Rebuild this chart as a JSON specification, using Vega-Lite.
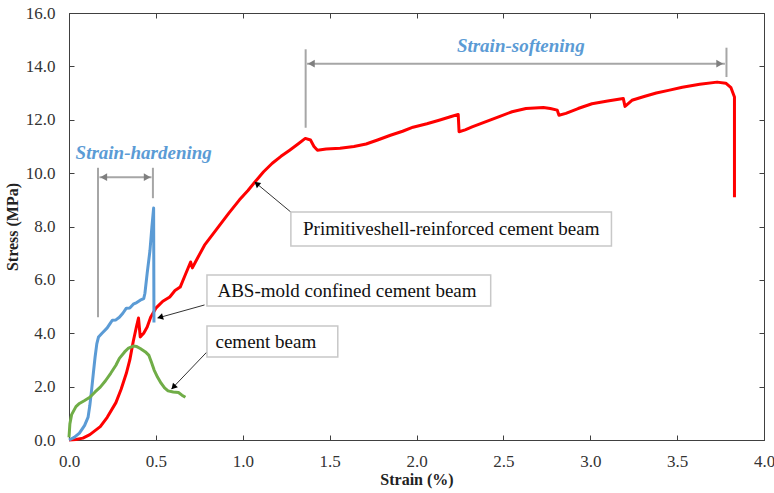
{
  "$schema": "https://vega.github.io/schema/vega-lite/v6.json",
  "width": 695,
  "height": 427,
  "autosize": {"type": "none"},
  "padding": {"left": 69, "top": 13, "right": 10, "bottom": 53},
  "config": {
    "view": {"stroke": "#404040", "strokeWidth": 1},
    "font": "Liberation Serif"
  },
  "datasets": {
    "curves": [
      {"s": "red", "i": 1, "x": 0, "y": 0},
      {"s": "red", "i": 2, "x": 0.04, "y": 0.02},
      {"s": "red", "i": 3, "x": 0.08, "y": 0.07},
      {"s": "red", "i": 4, "x": 0.12, "y": 0.2},
      {"s": "red", "i": 5, "x": 0.18, "y": 0.5},
      {"s": "red", "i": 6, "x": 0.22, "y": 0.85},
      {"s": "red", "i": 7, "x": 0.27, "y": 1.4},
      {"s": "red", "i": 8, "x": 0.3, "y": 1.9},
      {"s": "red", "i": 9, "x": 0.33, "y": 2.5},
      {"s": "red", "i": 10, "x": 0.35, "y": 3.0},
      {"s": "red", "i": 11, "x": 0.37, "y": 3.7},
      {"s": "red", "i": 12, "x": 0.39, "y": 4.3},
      {"s": "red", "i": 13, "x": 0.4, "y": 4.57},
      {"s": "red", "i": 14, "x": 0.41, "y": 3.86},
      {"s": "red", "i": 15, "x": 0.43, "y": 4.0},
      {"s": "red", "i": 16, "x": 0.45, "y": 4.23},
      {"s": "red", "i": 17, "x": 0.47, "y": 4.6},
      {"s": "red", "i": 18, "x": 0.5, "y": 4.94},
      {"s": "red", "i": 19, "x": 0.54, "y": 5.2},
      {"s": "red", "i": 20, "x": 0.58, "y": 5.36},
      {"s": "red", "i": 21, "x": 0.61, "y": 5.6},
      {"s": "red", "i": 22, "x": 0.64, "y": 5.73},
      {"s": "red", "i": 23, "x": 0.67, "y": 6.2},
      {"s": "red", "i": 24, "x": 0.7, "y": 6.67},
      {"s": "red", "i": 25, "x": 0.71, "y": 6.45},
      {"s": "red", "i": 26, "x": 0.73, "y": 6.7},
      {"s": "red", "i": 27, "x": 0.78, "y": 7.3},
      {"s": "red", "i": 28, "x": 0.85, "y": 7.9},
      {"s": "red", "i": 29, "x": 0.92, "y": 8.5},
      {"s": "red", "i": 30, "x": 0.98, "y": 8.99},
      {"s": "red", "i": 31, "x": 1.03, "y": 9.35},
      {"s": "red", "i": 32, "x": 1.07, "y": 9.67},
      {"s": "red", "i": 33, "x": 1.12, "y": 10.05},
      {"s": "red", "i": 34, "x": 1.17, "y": 10.37},
      {"s": "red", "i": 35, "x": 1.22, "y": 10.63},
      {"s": "red", "i": 36, "x": 1.27, "y": 10.86},
      {"s": "red", "i": 37, "x": 1.32, "y": 11.1},
      {"s": "red", "i": 38, "x": 1.36, "y": 11.3},
      {"s": "red", "i": 39, "x": 1.39, "y": 11.24},
      {"s": "red", "i": 40, "x": 1.41, "y": 11.0},
      {"s": "red", "i": 41, "x": 1.43, "y": 10.86},
      {"s": "red", "i": 42, "x": 1.48, "y": 10.9},
      {"s": "red", "i": 43, "x": 1.56, "y": 10.93},
      {"s": "red", "i": 44, "x": 1.64, "y": 11.0},
      {"s": "red", "i": 45, "x": 1.71, "y": 11.09},
      {"s": "red", "i": 46, "x": 1.78, "y": 11.25},
      {"s": "red", "i": 47, "x": 1.85, "y": 11.42},
      {"s": "red", "i": 48, "x": 1.92, "y": 11.57},
      {"s": "red", "i": 49, "x": 1.98, "y": 11.72},
      {"s": "red", "i": 50, "x": 2.06, "y": 11.85},
      {"s": "red", "i": 51, "x": 2.13, "y": 11.98},
      {"s": "red", "i": 52, "x": 2.2, "y": 12.12},
      {"s": "red", "i": 53, "x": 2.24, "y": 12.2},
      {"s": "red", "i": 54, "x": 2.245, "y": 11.55},
      {"s": "red", "i": 55, "x": 2.28, "y": 11.62},
      {"s": "red", "i": 56, "x": 2.32, "y": 11.73},
      {"s": "red", "i": 57, "x": 2.4, "y": 11.93},
      {"s": "red", "i": 58, "x": 2.48, "y": 12.13},
      {"s": "red", "i": 59, "x": 2.55, "y": 12.3},
      {"s": "red", "i": 60, "x": 2.63, "y": 12.42},
      {"s": "red", "i": 61, "x": 2.73, "y": 12.46},
      {"s": "red", "i": 62, "x": 2.77, "y": 12.42},
      {"s": "red", "i": 63, "x": 2.81, "y": 12.36},
      {"s": "red", "i": 64, "x": 2.82, "y": 12.17},
      {"s": "red", "i": 65, "x": 2.86, "y": 12.24},
      {"s": "red", "i": 66, "x": 2.93, "y": 12.42},
      {"s": "red", "i": 67, "x": 3.01, "y": 12.6},
      {"s": "red", "i": 68, "x": 3.1, "y": 12.7},
      {"s": "red", "i": 69, "x": 3.19, "y": 12.8},
      {"s": "red", "i": 70, "x": 3.2, "y": 12.5},
      {"s": "red", "i": 71, "x": 3.24, "y": 12.73},
      {"s": "red", "i": 72, "x": 3.31, "y": 12.87},
      {"s": "red", "i": 73, "x": 3.38, "y": 13.0},
      {"s": "red", "i": 74, "x": 3.45, "y": 13.1},
      {"s": "red", "i": 75, "x": 3.53, "y": 13.22},
      {"s": "red", "i": 76, "x": 3.63, "y": 13.33},
      {"s": "red", "i": 77, "x": 3.73, "y": 13.41},
      {"s": "red", "i": 78, "x": 3.78, "y": 13.37},
      {"s": "red", "i": 79, "x": 3.81, "y": 13.2},
      {"s": "red", "i": 80, "x": 3.83, "y": 12.85},
      {"s": "red", "i": 81, "x": 3.83, "y": 9.1},
      {"s": "blue", "i": 1, "x": 0, "y": 0},
      {"s": "blue", "i": 2, "x": 0.03, "y": 0.1},
      {"s": "blue", "i": 3, "x": 0.06, "y": 0.26},
      {"s": "blue", "i": 4, "x": 0.09, "y": 0.55},
      {"s": "blue", "i": 5, "x": 0.11, "y": 0.86},
      {"s": "blue", "i": 6, "x": 0.12, "y": 1.3},
      {"s": "blue", "i": 7, "x": 0.13, "y": 1.87},
      {"s": "blue", "i": 8, "x": 0.14, "y": 2.5},
      {"s": "blue", "i": 9, "x": 0.15, "y": 3.1},
      {"s": "blue", "i": 10, "x": 0.16, "y": 3.6},
      {"s": "blue", "i": 11, "x": 0.17, "y": 3.86},
      {"s": "blue", "i": 12, "x": 0.19, "y": 4.0},
      {"s": "blue", "i": 13, "x": 0.22, "y": 4.2},
      {"s": "blue", "i": 14, "x": 0.24, "y": 4.4},
      {"s": "blue", "i": 15, "x": 0.25, "y": 4.49},
      {"s": "blue", "i": 16, "x": 0.27, "y": 4.5},
      {"s": "blue", "i": 17, "x": 0.29, "y": 4.6},
      {"s": "blue", "i": 18, "x": 0.31, "y": 4.75},
      {"s": "blue", "i": 19, "x": 0.33, "y": 4.94},
      {"s": "blue", "i": 20, "x": 0.35, "y": 4.95},
      {"s": "blue", "i": 21, "x": 0.37, "y": 5.09},
      {"s": "blue", "i": 22, "x": 0.39, "y": 5.15},
      {"s": "blue", "i": 23, "x": 0.41, "y": 5.24},
      {"s": "blue", "i": 24, "x": 0.43, "y": 5.3},
      {"s": "blue", "i": 25, "x": 0.437, "y": 5.5},
      {"s": "blue", "i": 26, "x": 0.45, "y": 6.25},
      {"s": "blue", "i": 27, "x": 0.466, "y": 7.1},
      {"s": "blue", "i": 28, "x": 0.477, "y": 7.98},
      {"s": "blue", "i": 29, "x": 0.487, "y": 8.69},
      {"s": "blue", "i": 30, "x": 0.489, "y": 4.4},
      {"s": "green", "i": 1, "x": 0, "y": 0.1},
      {"s": "green", "i": 2, "x": 0.005, "y": 0.6},
      {"s": "green", "i": 3, "x": 0.015, "y": 0.95},
      {"s": "green", "i": 4, "x": 0.04, "y": 1.25},
      {"s": "green", "i": 5, "x": 0.06, "y": 1.37},
      {"s": "green", "i": 6, "x": 0.09, "y": 1.48},
      {"s": "green", "i": 7, "x": 0.12, "y": 1.6},
      {"s": "green", "i": 8, "x": 0.15, "y": 1.8},
      {"s": "green", "i": 9, "x": 0.18, "y": 1.98},
      {"s": "green", "i": 10, "x": 0.21, "y": 2.22},
      {"s": "green", "i": 11, "x": 0.24, "y": 2.5},
      {"s": "green", "i": 12, "x": 0.27, "y": 2.8},
      {"s": "green", "i": 13, "x": 0.29, "y": 3.06},
      {"s": "green", "i": 14, "x": 0.32, "y": 3.3},
      {"s": "green", "i": 15, "x": 0.34, "y": 3.43},
      {"s": "green", "i": 16, "x": 0.37, "y": 3.52},
      {"s": "green", "i": 17, "x": 0.39, "y": 3.5},
      {"s": "green", "i": 18, "x": 0.41, "y": 3.43},
      {"s": "green", "i": 19, "x": 0.44, "y": 3.3},
      {"s": "green", "i": 20, "x": 0.46, "y": 3.17},
      {"s": "green", "i": 21, "x": 0.475, "y": 2.9},
      {"s": "green", "i": 22, "x": 0.49, "y": 2.62},
      {"s": "green", "i": 23, "x": 0.51, "y": 2.35},
      {"s": "green", "i": 24, "x": 0.53, "y": 2.13},
      {"s": "green", "i": 25, "x": 0.55, "y": 1.95},
      {"s": "green", "i": 26, "x": 0.57, "y": 1.84},
      {"s": "green", "i": 27, "x": 0.6, "y": 1.8},
      {"s": "green", "i": 28, "x": 0.63, "y": 1.78},
      {"s": "green", "i": 29, "x": 0.65, "y": 1.68},
      {"s": "green", "i": 30, "x": 0.67, "y": 1.6}
    ],
    "brackets": [
      {"x": 0.167, "x2": 0.167, "y": 4.6, "y2": 10.2},
      {"x": 0.483, "x2": 0.483, "y": 9.06, "y2": 10.2},
      {"x": 0.175, "x2": 0.475, "y": 9.85, "y2": 9.85},
      {"x": 1.362, "x2": 1.362, "y": 11.7, "y2": 14.64},
      {"x": 3.784, "x2": 3.784, "y": 13.6, "y2": 14.7},
      {"x": 1.37, "x2": 3.775, "y": 14.1, "y2": 14.1}
    ],
    "headsLeft": [
      {"x": 0.2, "y": 9.85},
      {"x": 1.395, "y": 14.1}
    ],
    "headsRight": [
      {"x": 0.45, "y": 9.85},
      {"x": 3.745, "y": 14.1}
    ],
    "pointers": [
      {"x": 1.277, "y": 8.54, "x2": 1.07, "y2": 9.66},
      {"x": 0.78, "y": 5.06, "x2": 0.51, "y2": 4.57},
      {"x": 0.794, "y": 3.3, "x2": 0.59, "y2": 1.91}
    ],
    "boxes": [
      {"label": "Primitiveshell-reinforced cement beam", "x": 1.277, "x2": 3.122, "y": 8.54, "y2": 7.27, "tx": 2.2, "ty": 7.9},
      {"label": "ABS-mold confined cement beam", "x": 0.794, "x2": 2.427, "y": 6.18, "y2": 5.02, "tx": 1.6, "ty": 5.6},
      {"label": "cement beam", "x": 0.794, "x2": 1.547, "y": 4.27, "y2": 3.11, "tx": 1.133, "ty": 3.69}
    ],
    "phases": [
      {"label": "Strain-hardening", "x": 0.43, "y": 10.75},
      {"label": "Strain-softening", "x": 2.6, "y": 14.76}
    ]
  },
  "resolve": {"axis": {"x": "independent", "y": "independent"}},
  "layer": [
    {
      "data": {"name": "curves"},
      "mark": {"type": "line", "strokeWidth": 3, "strokeJoin": "round", "strokeCap": "butt"},
      "encoding": {
        "x": {
          "field": "x", "type": "quantitative",
          "scale": {"domain": [0, 4], "nice": false, "zero": false},
          "axis": {
            "orient": "bottom",
            "values": [0, 0.5, 1, 1.5, 2, 2.5, 3, 3.5, 4],
            "format": ".1f",
            "grid": false,
            "labelFlush": false,
            "labelOverlap": false,
            "labelFont": "Liberation Serif",
            "labelFontSize": 17,
            "labelColor": "#333333",
            "labelPadding": 18,
            "tickSize": -5,
            "tickColor": "#404040",
            "domainColor": "#404040",
            "title": "Strain (%)",
            "titleFont": "Liberation Serif",
            "titleFontSize": 16,
            "titleFontWeight": "bold",
            "titleColor": "#222222",
            "titlePadding": 2
          }
        },
        "y": {
          "field": "y", "type": "quantitative",
          "scale": {"domain": [0, 16], "nice": false, "zero": false},
          "axis": {
            "orient": "left",
            "values": [0, 2, 4, 6, 8, 10, 12, 14, 16],
            "format": ".1f",
            "grid": false,
            "labelFont": "Liberation Serif",
            "labelFontSize": 17,
            "labelColor": "#333333",
            "labelPadding": 19,
            "tickSize": -5,
            "tickColor": "#404040",
            "domainColor": "#404040",
            "title": "Stress (MPa)",
            "titleFont": "Liberation Serif",
            "titleFontSize": 16,
            "titleFontWeight": "bold",
            "titleColor": "#222222",
            "titlePadding": 5
          }
        },
        "color": {
          "field": "s", "type": "nominal",
          "scale": {"domain": ["red", "blue", "green"], "range": ["#ff0000", "#5b9bd5", "#70ad47"]},
          "legend": null
        },
        "order": {"field": "i", "type": "quantitative"}
      }
    },
    {
      "data": {"name": "brackets"},
      "mark": {"type": "rule", "color": "#a6a6a6", "strokeWidth": 2},
      "encoding": {
        "x": {
          "field": "x", "type": "quantitative",
          "axis": {"orient": "top", "values": [0, 0.5, 1, 1.5, 2, 2.5, 3, 3.5, 4], "labels": false, "title": null, "grid": false, "domain": false, "tickSize": -5, "tickColor": "#404040"}
        },
        "x2": {"field": "x2"},
        "y": {
          "field": "y", "type": "quantitative",
          "axis": {"orient": "right", "values": [0, 2, 4, 6, 8, 10, 12, 14, 16], "labels": false, "title": null, "grid": false, "domain": false, "tickSize": -5, "tickColor": "#404040"}
        },
        "y2": {"field": "y2"}
      }
    },
    {
      "data": {"name": "headsLeft"},
      "mark": {"type": "point", "shape": "triangle-left", "filled": true, "color": "#7f7f7f", "size": 60, "opacity": 1},
      "encoding": {
        "x": {"field": "x", "type": "quantitative", "axis": null},
        "y": {"field": "y", "type": "quantitative", "axis": null}
      }
    },
    {
      "data": {"name": "headsRight"},
      "mark": {"type": "point", "shape": "triangle-right", "filled": true, "color": "#7f7f7f", "size": 60, "opacity": 1},
      "encoding": {
        "x": {"field": "x", "type": "quantitative", "axis": null},
        "y": {"field": "y", "type": "quantitative", "axis": null}
      }
    },
    {
      "data": {"name": "pointers"},
      "mark": {"type": "rule", "color": "#333333", "strokeWidth": 1},
      "encoding": {
        "x": {"field": "x", "type": "quantitative", "axis": null},
        "x2": {"field": "x2"},
        "y": {"field": "y", "type": "quantitative", "axis": null},
        "y2": {"field": "y2"}
      }
    },
    {
      "data": {"values": [{"x": 1.085, "y": 9.58}]},
      "mark": {"type": "point", "shape": "triangle", "filled": true, "color": "#000000", "size": 45, "opacity": 1, "angle": 310},
      "encoding": {
        "x": {"field": "x", "type": "quantitative", "axis": null},
        "y": {"field": "y", "type": "quantitative", "axis": null}
      }
    },
    {
      "data": {"values": [{"x": 0.53, "y": 4.61}]},
      "mark": {"type": "point", "shape": "triangle", "filled": true, "color": "#000000", "size": 45, "opacity": 1, "angle": 254},
      "encoding": {
        "x": {"field": "x", "type": "quantitative", "axis": null},
        "y": {"field": "y", "type": "quantitative", "axis": null}
      }
    },
    {
      "data": {"values": [{"x": 0.605, "y": 2.01}]},
      "mark": {"type": "point", "shape": "triangle", "filled": true, "color": "#000000", "size": 45, "opacity": 1, "angle": 223},
      "encoding": {
        "x": {"field": "x", "type": "quantitative", "axis": null},
        "y": {"field": "y", "type": "quantitative", "axis": null}
      }
    },
    {
      "data": {"name": "boxes"},
      "mark": {"type": "rect", "fill": "#ffffff", "stroke": "#c8c8c8", "strokeWidth": 1.5},
      "encoding": {
        "x": {"field": "x", "type": "quantitative", "axis": null},
        "x2": {"field": "x2"},
        "y": {"field": "y", "type": "quantitative", "axis": null},
        "y2": {"field": "y2"}
      }
    },
    {
      "data": {"name": "boxes"},
      "mark": {"type": "text", "font": "Liberation Serif", "fontSize": 19, "color": "#111111", "align": "center", "baseline": "middle"},
      "encoding": {
        "x": {"field": "tx", "type": "quantitative", "axis": null},
        "y": {"field": "ty", "type": "quantitative", "axis": null},
        "text": {"field": "label"}
      }
    },
    {
      "data": {"name": "phases"},
      "mark": {"type": "text", "font": "Liberation Serif", "fontSize": 19, "fontWeight": "bold", "fontStyle": "italic", "color": "#5b9bd5", "align": "center", "baseline": "middle"},
      "encoding": {
        "x": {"field": "x", "type": "quantitative", "axis": null},
        "y": {"field": "y", "type": "quantitative", "axis": null},
        "text": {"field": "label"}
      }
    }
  ]
}
